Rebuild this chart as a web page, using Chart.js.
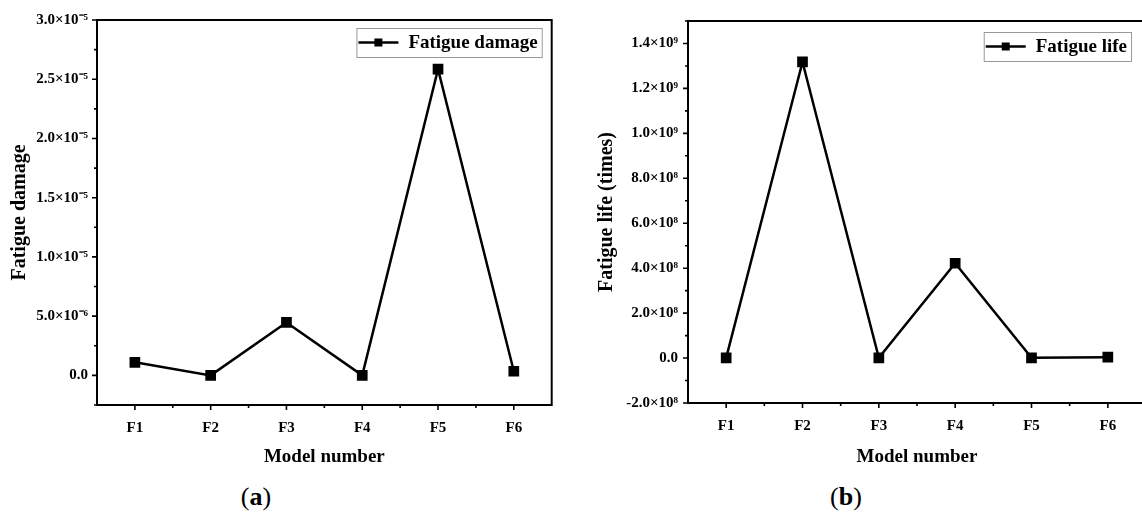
<!DOCTYPE html>
<html>
<head>
<meta charset="utf-8">
<script src="https://cdn.jsdelivr.net/npm/chart.js@4.4.1/dist/chart.umd.min.js"></script>
<style>
    html, body { margin: 0; padding: 0; background: #fff; overflow: hidden; width: 1142px; height: 514px; }
    .box { position: absolute; top: 0; height: 475px; }
    #boxA { left: 0; width: 560px; }
    #boxB { left: 560px; width: 600px; }
    .cap { position: absolute; top: 482px; font-family: "Liberation Serif", "Times New Roman", serif; font-size: 26px; color: #000; transform: translateX(-50%); }
    .cap b { font-weight: bold; }
</style>
</head>
<body>
<div class="box" id="boxA"><canvas id="damageChart"></canvas></div>
<div class="box" id="boxB"><canvas id="lifeChart"></canvas></div>
<div class="cap" style="left:256px">(<b>a</b>)</div>
<div class="cap" style="left:846px">(<b>b</b>)</div>
<script>
const models = ['F1', 'F2', 'F3', 'F4', 'F5', 'F6'];
const fatigueDamage = [1.1e-6, 0, 4.47e-6, 0, 2.585e-5, 3.5e-7];
const fatigueLife = [1e6, 1.318e9, 1e6, 4.22e8, 1e6, 4e6];
const damageTickLabels = ['0.0', '5.0×10⁻⁶', '1.0×10⁻⁵', '1.5×10⁻⁵', '2.0×10⁻⁵', '2.5×10⁻⁵', '3.0×10⁻⁵'];
const lifeTickLabels = ['-2.0×10⁸', '0.0', '2.0×10⁸', '4.0×10⁸', '6.0×10⁸', '8.0×10⁸', '1.0×10⁹', '1.2×10⁹', '1.4×10⁹'];

const FONT = '"Liberation Serif", "Times New Roman", serif';

// axis frame + outward major/minor tick marks
const framePlugin = {
    id: 'frame',
    afterDatasetsDraw(chart) {
        const { ctx, chartArea: a, scales } = chart;
        ctx.save();
        ctx.strokeStyle = '#000';
        ctx.lineWidth = 2;
        ctx.strokeRect(a.left, a.top, a.right - a.left, a.bottom - a.top);
        ctx.lineWidth = 1.6;
        ctx.beginPath();
        scales.y.ticks.forEach(t => {
            const py = scales.y.getPixelForValue(t.value);
            const len = t.label ? 5 : 3;
            ctx.moveTo(a.left, py);
            ctx.lineTo(a.left - len, py);
        });
        for (let i = 0; i < models.length; i++) {
            const px = scales.x.getPixelForValue(i);
            ctx.moveTo(px, a.bottom);
            ctx.lineTo(px, a.bottom + 5);
            const mx = scales.x.getPixelForValue(i + 0.5);
            if (mx < a.right - 1) {
                ctx.moveTo(mx, a.bottom);
                ctx.lineTo(mx, a.bottom + 3);
            }
        }
        ctx.stroke();
        ctx.restore();
    }
};

const legendPlugin = {
    id: 'boxLegend',
    afterDraw(chart, args, opts) {
        const { ctx, chartArea: a } = chart;
        const label = chart.data.datasets[0].label;
        ctx.save();
        ctx.font = 'bold 19px ' + FONT;
        const tw = ctx.measureText(label).width;
        const w = 2 + 40 + 10 + tw + 4;
        const h = 29;
        const x = a.right - opts.right - w;
        const y = a.top + opts.top;
        ctx.fillStyle = '#fff';
        ctx.fillRect(x, y, w, h);
        ctx.strokeStyle = '#999';
        ctx.lineWidth = 1;
        ctx.strokeRect(x + 0.5, y + 0.5, w, h);
        ctx.strokeStyle = '#000';
        ctx.lineWidth = 2.5;
        ctx.beginPath();
        ctx.moveTo(x + 2, y + h / 2);
        ctx.lineTo(x + 42, y + h / 2);
        ctx.stroke();
        ctx.fillStyle = '#000';
        ctx.fillRect(x + 18, y + h / 2 - 4, 8, 8);
        ctx.textBaseline = 'middle';
        ctx.fillText(label, x + 52, y + h / 2 + 1);
        ctx.restore();
    }
};

function makeChart(id, values, label, yTitle, yMin, yMax, minorStep, tickFn, geo) {
    return new Chart(document.getElementById(id), {
        type: 'line',
        data: {
            labels: models,
            datasets: [{
                label: label,
                data: values,
                borderColor: '#000',
                backgroundColor: '#000',
                borderWidth: 2.5,
                tension: 0,
                pointStyle: 'rect',
                pointRadius: 5.8,
                pointHoverRadius: 5.8
            }]
        },
        options: {
            responsive: true,
            maintainAspectRatio: false,
            animation: false,
            layout: { padding: { top: geo.top, right: geo.right, left: 0, bottom: 0 } },
            plugins: {
                legend: { display: false },
                tooltip: { enabled: false },
                boxLegend: { right: geo.legendRight, top: geo.legendTop }
            },
            scales: {
                x: {
                    type: 'category',
                    offset: true,
                    border: { display: false },
                    grid: { display: false, drawTicks: false },
                    ticks: { color: '#000', padding: 14, font: { family: FONT, size: 15, weight: 'bold' } },
                    title: { display: true, text: 'Model number', color: '#000', padding: { top: 0, bottom: 6.6 }, font: { family: FONT, size: 19, weight: 'bold' } },
                    afterFit: s => { s.height = geo.xHeight; }
                },
                y: {
                    min: yMin,
                    max: yMax,
                    border: { display: false },
                    grid: { display: false, drawTicks: false },
                    ticks: { stepSize: minorStep, autoSkip: false, color: '#000', padding: geo.tickPad, callback: tickFn, font: { family: FONT, size: 15, weight: 'bold' } },
                    title: { display: true, text: yTitle, color: '#000', padding: { top: geo.titlePad, bottom: 0 }, font: { family: FONT, size: 20, weight: 'bold' } },
                    afterFit: s => { s.width = geo.yWidth; }
                }
            }
        },
        plugins: [framePlugin, legendPlugin]
    });
}

const damageChart = makeChart('damageChart', fatigueDamage, 'Fatigue damage', 'Fatigue damage',
    -2.5e-6, 3.0e-5, 2.5e-6,
    v => {
        const k = Math.round(v / 5e-6);
        return (k >= 0 && Math.abs(v - k * 5e-6) < 1e-9) ? damageTickLabels[k] : '';
    },
    { top: 20, right: 7, xHeight: 70, yWidth: 97, tickPad: 9, titlePad: 8, legendRight: 10, legendTop: 8 });

const lifeChart = makeChart('lifeChart', fatigueLife, 'Fatigue life', 'Fatigue life (times)',
    -2e8, 1.5e9, 1e8,
    v => {
        const k = Math.round(v / 2e8);
        return Math.abs(v - k * 2e8) < 1e3 ? (lifeTickLabels[k + 1] || '') : '';
    },
    { top: 21, right: 14, xHeight: 72, yWidth: 128, tickPad: 10, titlePad: 35, legendRight: 15, legendTop: 11 });
</script>
</body>
</html>
